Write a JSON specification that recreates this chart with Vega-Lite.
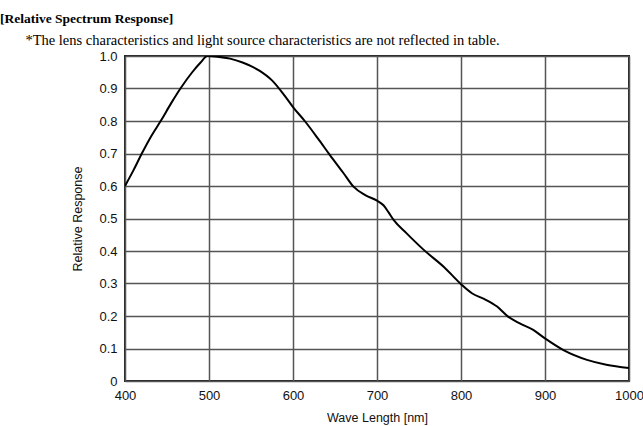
{
  "$schema": "https://vega.github.io/schema/vega-lite/v6.json",
  "autosize": "none",
  "width": 504,
  "height": 325,
  "padding": {"left": 125, "top": 56, "right": 14, "bottom": 45},
  "background": "white",
  "title": {
    "text": "[Relative Spectrum Response]",
    "subtitle": "\u200b\u00a0\u00a0\u00a0\u00a0\u00a0\u00a0\u00a0*The lens characteristics and light source characteristics are not reflected in table.",
    "anchor": "start",
    "frame": "group",
    "dx": -125,
    "offset": 3,
    "font": "Liberation Serif",
    "fontSize": 13.5,
    "fontWeight": "bold",
    "color": "black",
    "subtitleFont": "Liberation Serif",
    "subtitleFontSize": 14.5,
    "subtitleColor": "black",
    "subtitlePadding": 8
  },
  "data": {
    "values": [
      {"wl": 400, "r": 0.600},
      {"wl": 410, "r": 0.648},
      {"wl": 420, "r": 0.700},
      {"wl": 430, "r": 0.748},
      {"wl": 443, "r": 0.802},
      {"wl": 455, "r": 0.855},
      {"wl": 466, "r": 0.900},
      {"wl": 480, "r": 0.950},
      {"wl": 490, "r": 0.980},
      {"wl": 498, "r": 1.000},
      {"wl": 510, "r": 0.998},
      {"wl": 525, "r": 0.992},
      {"wl": 540, "r": 0.980},
      {"wl": 560, "r": 0.955},
      {"wl": 575, "r": 0.925},
      {"wl": 590, "r": 0.878},
      {"wl": 600, "r": 0.843},
      {"wl": 614, "r": 0.800},
      {"wl": 630, "r": 0.745},
      {"wl": 644, "r": 0.695},
      {"wl": 660, "r": 0.640},
      {"wl": 672, "r": 0.598},
      {"wl": 686, "r": 0.572},
      {"wl": 700, "r": 0.555},
      {"wl": 708, "r": 0.540},
      {"wl": 714, "r": 0.518},
      {"wl": 720, "r": 0.495},
      {"wl": 735, "r": 0.455},
      {"wl": 755, "r": 0.405},
      {"wl": 780, "r": 0.350},
      {"wl": 800, "r": 0.298},
      {"wl": 813, "r": 0.270},
      {"wl": 828, "r": 0.252},
      {"wl": 843, "r": 0.229},
      {"wl": 856, "r": 0.198},
      {"wl": 870, "r": 0.177},
      {"wl": 886, "r": 0.157},
      {"wl": 900, "r": 0.131},
      {"wl": 922, "r": 0.095},
      {"wl": 950, "r": 0.065},
      {"wl": 973, "r": 0.050},
      {"wl": 1000, "r": 0.040}
    ]
  },
  "mark": {"type": "line", "color": "black", "strokeWidth": 2, "interpolate": "monotone", "clip": true},
  "encoding": {
    "x": {
      "field": "wl",
      "type": "quantitative",
      "scale": {"domain": [400, 1000], "nice": false, "zero": false},
      "axis": {
        "title": "Wave Length [nm]",
        "values": [400, 500, 600, 700, 800, 900, 1000],
        "format": "d",
        "labelFlush": false,
        "labelPadding": 8,
        "titlePadding": 9
      }
    },
    "y": {
      "field": "r",
      "type": "quantitative",
      "scale": {"domain": [0, 1], "nice": false},
      "axis": {
        "title": "Relative Response",
        "values": [0, 0.1, 0.2, 0.3, 0.4, 0.5, 0.6, 0.7, 0.8, 0.9, 1.0],
        "labelExpr": "datum.value == 0 ? '0' : format(datum.value, '.1f')",
        "labelFlush": false,
        "labelPadding": 8,
        "titlePadding": 14
      }
    }
  },
  "config": {
    "view": {"stroke": "#222", "strokeWidth": 2},
    "axis": {
      "domain": false,
      "ticks": false,
      "grid": true,
      "gridColor": "#555",
      "gridWidth": 1.5,
      "gridOpacity": 1,
      "labelFont": "Liberation Sans",
      "labelFontSize": 13,
      "labelColor": "#111",
      "titleFont": "Liberation Sans",
      "titleFontSize": 12.5,
      "titleFontWeight": "normal",
      "titleColor": "#111"
    }
  }
}
